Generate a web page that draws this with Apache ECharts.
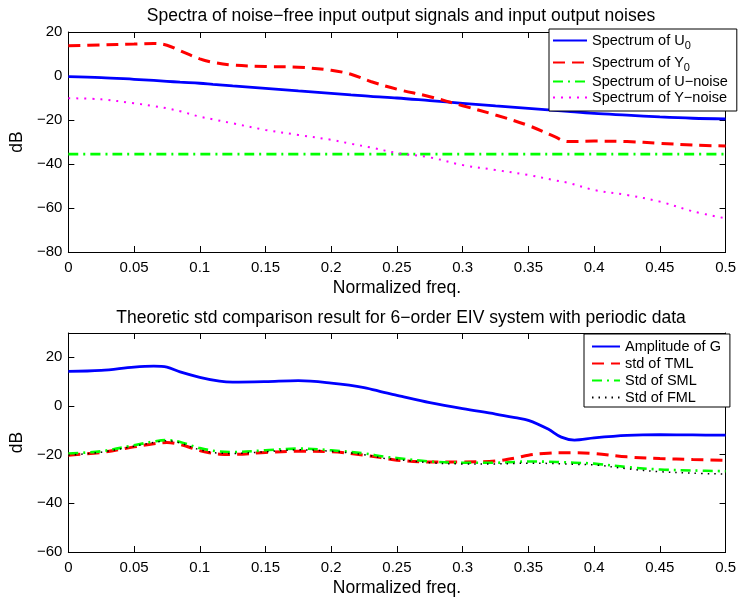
<!DOCTYPE html>
<html><head><meta charset="utf-8">
<script src="https://cdn.jsdelivr.net/npm/echarts@6/dist/echarts.min.js"></script>
<style>html,body{margin:0;padding:0;background:#fff}#c{width:739px;height:598px}</style>
</head><body><div id="c"></div>
<script>
// ---- top plot data ----
var freqTop = [0, 0.025, 0.05, 0.065, 0.075, 0.085, 0.1, 0.11, 0.125, 0.15, 0.175, 0.2, 0.215, 0.23, 0.25, 0.275, 0.3, 0.325, 0.35, 0.37, 0.38, 0.4, 0.425, 0.45, 0.475, 0.5];
var specU0 = [-0.3, -0.7, -1.5, -2, -2.4, -2.8, -3.3, -3.8, -4.5, -5.6, -6.8, -7.9, -8.6, -9.3, -10, -11.2, -12.4, -13.6, -14.7, -15.6, -16.1, -17, -17.8, -18.6, -19.2, -19.5];
var specY0 = [13.8, 14.1, 14.5, 14.8, 14, 11.5, 7.8, 6.2, 5, 4.3, 4, 2.6, 0.8, -2.5, -6, -9.4, -13.5, -17.7, -22.5, -27.6, -29.8, -29.6, -29.8, -30.6, -31.4, -31.8];
var specUnoise = [-35.5, -35.5, -35.5, -35.5, -35.5, -35.5, -35.5, -35.5, -35.5, -35.5, -35.5, -35.5, -35.5, -35.5, -35.5, -35.5, -35.5, -35.5, -35.5, -35.5, -35.5, -35.5, -35.5, -35.5, -35.5, -35.5];
var specYnoise = [-10.1, -10.6, -12.4, -13.7, -14.7, -16, -18.5, -19.7, -21.5, -24.5, -26.8, -29, -30.8, -32.5, -35, -37, -40.5, -42.7, -45, -47.4, -48.5, -51.8, -54.1, -57.1, -61.5, -64.7];
var namesTop = ['Spectrum of U0', 'Spectrum of Y0', 'Spectrum of U\u2212noise', 'Spectrum of Y\u2212noise'];
// ---- bottom plot data ----
var freqBot = [0, 0.025, 0.05, 0.065, 0.075, 0.085, 0.1, 0.115, 0.125, 0.15, 0.175, 0.2, 0.225, 0.24, 0.25, 0.275, 0.3, 0.325, 0.34, 0.35, 0.365, 0.375, 0.385, 0.4, 0.425, 0.45, 0.475, 0.5];
var ampG = [14.2, 14.6, 16, 16.4, 16, 14, 11.8, 10.2, 9.8, 10, 10.4, 9.4, 7.6, 5.6, 4.4, 1.4, -1.1, -3.3, -4.8, -5.9, -9.5, -12.8, -14, -13.1, -12.1, -11.8, -11.9, -12];
var stdTML = [-20.2, -19.1, -16.8, -15.5, -15, -15.8, -18.3, -19.8, -19.9, -19.1, -18.6, -18.8, -20.2, -21.4, -22.3, -23, -23, -22.6, -21.4, -20.2, -19.4, -19.2, -19.2, -19.5, -20.9, -21.6, -22, -22.3];
var stdSML = [-19.5, -18.6, -16.1, -14.6, -14, -14.8, -17.3, -18.7, -18.9, -18.2, -17.5, -18.2, -19.5, -20.8, -21.4, -22.8, -23.3, -23.3, -23, -22.8, -22.9, -23.1, -23.3, -23.7, -25.1, -26.1, -26.5, -26.8];
var stdFML = [-20.2, -19, -16.5, -15, -14.3, -15.2, -18, -19.4, -19.5, -18.8, -18, -18.6, -20, -21.5, -22, -23.3, -23.8, -23.8, -23.6, -23.5, -23.6, -23.8, -24, -24.2, -25.8, -27, -27.6, -28];
var namesBot = ['Amplitude of G', 'std of TML', 'Std of SML', 'Std of FML'];
var titles = ['Spectra of noise\u2212free input output signals and input output noises', 'Theoretic std comparison result for 6\u2212order EIV system with periodic data'];
var xName = 'Normalized freq.';
var yName = 'dB';

var FONT = '"Liberation Sans", Arial, Helvetica, sans-serif';
function pairs(xs, ys) { return xs.map(function (x, i) { return [x, ys[i]]; }); }
function minusFmt(v) { return String(v).replace('-', '\u2212'); }

function xAxes(gi) {
  return [{
    type: 'value', gridIndex: gi, min: 0, max: 0.5, interval: 0.05, position: 'bottom',
    name: xName, nameLocation: 'middle', nameGap: 27,
    nameTextStyle: { fontFamily: FONT, fontSize: 17.5, color: '#000' },
    axisLine: { show: true, onZero: false, lineStyle: { color: '#000', width: 1 } },
    axisTick: { show: true, inside: true, length: 6, lineStyle: { color: '#000' } },
    axisLabel: { fontFamily: FONT, fontSize: 15, color: '#000', margin: 8, formatter: minusFmt },
    splitLine: { show: false }
  }, {
    type: 'value', gridIndex: gi, min: 0, max: 0.5, interval: 0.05, position: 'top',
    axisLine: { show: true, onZero: false, lineStyle: { color: '#000', width: 1 } },
    axisTick: { show: true, inside: true, length: 6, lineStyle: { color: '#000' } },
    axisLabel: { show: false }, splitLine: { show: false }
  }];
}
function yAxes(gi, mn, mx) {
  return [{
    type: 'value', gridIndex: gi, min: mn, max: mx, interval: 20, position: 'left',
    name: yName, nameLocation: 'middle', nameGap: 30, nameRotate: 90,
    nameTextStyle: { fontFamily: FONT, fontSize: 17.5, color: '#000' },
    axisLine: { show: true, onZero: false, lineStyle: { color: '#000', width: 1 } },
    axisTick: { show: true, inside: true, length: 6, lineStyle: { color: '#000' } },
    axisLabel: { fontFamily: FONT, fontSize: 15, color: '#000', margin: 6, formatter: minusFmt, showMaxLabel: mx % 20 === 0 },
    splitLine: { show: false }
  }, {
    type: 'value', gridIndex: gi, min: mn, max: mx, interval: 20, position: 'right',
    axisLine: { show: true, onZero: false, lineStyle: { color: '#000', width: 1 } },
    axisTick: { show: true, inside: true, length: 6, lineStyle: { color: '#000' } },
    axisLabel: { show: false }, splitLine: { show: false }
  }];
}
function line(name, xi, yi, xs, ys, color, width, type) {
  return {
    type: 'line', name: name, xAxisIndex: xi, yAxisIndex: yi, data: pairs(xs, ys),
    showSymbol: false, symbol: 'none', smooth: 0.35, animation: false, z: 3,
    lineStyle: { color: color, width: width, type: type },
    itemStyle: { color: color }
  };
}
function legendFmt(n) {
  var m = n.match(/^(.*[UY])0$/);
  return m ? '{m|' + m[1] + '}{sub|0}' : '{m|' + n + '}';
}
function legend(names, left, top, padding, itemWidth, itemGap) {
  return {
    data: names, orient: 'vertical', left: left, top: top, itemWidth: itemWidth, itemHeight: 10,
    itemGap: itemGap, padding: padding, backgroundColor: '#fff', borderColor: '#000', borderWidth: 1,
    itemStyle: { opacity: 0 },
    textStyle: {
      fontFamily: FONT, fontSize: 14.5, color: '#000',
      rich: {
        m: { fontFamily: FONT, fontSize: 14.5, lineHeight: 15, verticalAlign: 'top', color: '#000' },
        sub: { fontFamily: FONT, fontSize: 11, lineHeight: 11, padding: [10, 0, 0, 0], color: '#000' }
      }
    },
    formatter: legendFmt
  };
}

var chart = echarts.init(document.getElementById('c'), null, { renderer: 'canvas' });
chart.setOption({
  animation: false,
  backgroundColor: '#fff',
  title: [
    { text: titles[0], left: 396, textAlign: 'center', top: 2, textStyle: { fontFamily: FONT, fontSize: 17.5, fontWeight: 'normal', color: '#000' } },
    { text: titles[1], left: 396, textAlign: 'center', top: 304, textStyle: { fontFamily: FONT, fontSize: 17.5, fontWeight: 'normal', color: '#000' } }
  ],
  grid: [
    { left: 65, top: 32, width: 662, height: 220 },
    { left: 65, top: 333, width: 662, height: 221 }
  ],
  xAxis: xAxes(0).concat(xAxes(1)),
  yAxis: yAxes(0, -80, 20).concat(yAxes(1, -60, 30)),
  legend: [legend(namesTop, 549, 29, [1, 9, 6, 3], 34, 1), legend(namesBot, 584, 334, [5, 9, 2, 7], 28, 2)],
  series: [
    line(namesTop[0], 0, 0, freqTop, specU0, '#0000ff', 2.8, 'solid'),
    line(namesTop[1], 0, 0, freqTop, specY0, '#ff0000', 3, [12, 7]),
    line(namesTop[2], 0, 0, freqTop, specUnoise, '#00ff00', 2.6, [10, 5, 2, 5]),
    line(namesTop[3], 0, 0, freqTop, specYnoise, '#ff00ff', 2, [2, 6]),
    line(namesBot[0], 2, 2, freqBot, ampG, '#0000ff', 2.8, 'solid'),
    line(namesBot[1], 2, 2, freqBot, stdTML, '#ff0000', 3, [12, 7]),
    line(namesBot[2], 2, 2, freqBot, stdSML, '#00ff00', 2.6, [10, 5, 2, 5]),
    line(namesBot[3], 2, 2, freqBot, stdFML, '#000000', 1.5, [1.5, 5])
  ]
});
</script></body></html>
